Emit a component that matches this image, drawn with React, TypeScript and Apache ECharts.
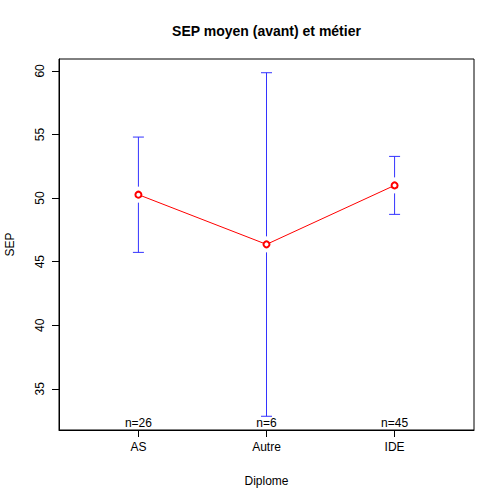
import React, { useEffect, useRef } from "react";
import * as echarts from "echarts";

const categories = ["AS", "Autre", "IDE"];
const means = [50.27, 46.36, 51.0];
const upper = [54.8, 59.86, 53.28];
const lower = [45.73, 32.84, 48.72];
const counts = [26, 6, 45];
const yTicks = [35, 40, 45, 50, 55, 60];

const Y_MIN = 31.76;
const Y_MAX = 60.94;
const X_MIN = 0.38;
const X_MAX = 3.62;
const FONT = "'Liberation Sans', Arial, Helvetica, sans-serif";

export default function App() {
  const ref = useRef<HTMLDivElement>(null);
  useEffect(() => {
    if (!ref.current) return;
    const chart = echarts.init(ref.current, null, { renderer: "svg" });
    const xs = categories.map((_, i) => i + 1);
    chart.setOption({
      animation: false,
      backgroundColor: "#ffffff",
      textStyle: { fontFamily: FONT },
      graphic: [
        {
          type: "text",
          x: 266.5,
          y: 31,
          style: {
            text: "SEP moyen (avant) et métier",
            fontSize: 14,
            fontWeight: "bold",
            fontFamily: FONT,
            fill: "#000",
            textAlign: "center",
            textVerticalAlign: "middle",
          },
        },
      ],
      grid: {
        left: 59,
        right: 30,
        top: 59,
        bottom: 74,
        show: true,
        borderColor: "#000",
        borderWidth: 1,
        backgroundColor: "transparent",
        containLabel: false,
        outerBoundsMode: "none",
      },
      xAxis: {
        type: "value",
        min: X_MIN,
        max: X_MAX,
        name: "Diplome",
        nameLocation: "middle",
        nameGap: 45,
        nameTextStyle: { fontSize: 12, color: "#000", fontFamily: FONT },
        splitLine: { show: false },
        axisLine: { show: true, onZero: false, lineStyle: { color: "#000", width: 1 } },
        axisTick: { show: true, length: 7, customValues: xs, lineStyle: { color: "#000" } },
        axisLabel: {
          show: true,
          customValues: xs,
          margin: 11,
          fontSize: 12,
          color: "#000",
          fontFamily: FONT,
          formatter: (v: number) => categories[Math.round(v) - 1] ?? "",
        },
      },
      yAxis: {
        type: "value",
        min: Y_MIN,
        max: Y_MAX,
        name: "SEP",
        nameLocation: "middle",
        nameGap: 43,
        nameRotate: 90,
        nameTextStyle: { fontSize: 12, color: "#000", fontFamily: FONT },
        splitLine: { show: false },
        axisLine: { show: true, onZero: false, lineStyle: { color: "#000", width: 1 } },
        axisTick: { show: true, length: 7, customValues: yTicks, lineStyle: { color: "#000" } },
        axisLabel: {
          show: true,
          customValues: yTicks,
          rotate: 90,
          margin: 13,
          fontSize: 12,
          color: "#000",
          fontFamily: FONT,
        },
      },
      series: [
        {
          type: "custom",
          z: 2,
          data: xs.map((x, i) => [x, lower[i], means[i], upper[i]]),
          renderItem: (params: any, api: any) => {
            const x = api.value(0);
            const lo = api.value(1);
            const mean = api.value(2);
            const hi = api.value(3);
            const pHi = api.coord([x, hi]);
            const pMean = api.coord([x, mean]);
            const pLo = api.coord([x, lo]);
            const gap = 8;
            const cap = 5.5;
            const style = { stroke: "#3333ff", lineWidth: 1 };
            return {
              type: "group",
              children: [
                { type: "line", shape: { x1: pHi[0], y1: pHi[1], x2: pHi[0], y2: pMean[1] - gap }, style },
                { type: "line", shape: { x1: pLo[0], y1: pMean[1] + gap, x2: pLo[0], y2: pLo[1] }, style },
                { type: "line", shape: { x1: pHi[0] - cap, y1: pHi[1], x2: pHi[0] + cap, y2: pHi[1] }, style },
                { type: "line", shape: { x1: pLo[0] - cap, y1: pLo[1], x2: pLo[0] + cap, y2: pLo[1] }, style },
              ],
            };
          },
        },
        {
          type: "line",
          z: 3,
          data: xs.map((x, i) => [x, means[i]]),
          symbol: "emptyCircle",
          symbolSize: 6,
          lineStyle: { color: "#ff0000", width: 1 },
          itemStyle: { color: "#ff0000", borderColor: "#ff0000", borderWidth: 1 },
        },
        {
          type: "custom",
          z: 4,
          data: xs.map((x, i) => [x, counts[i]]),
          renderItem: (params: any, api: any) => {
            const x = api.value(0);
            const n = api.value(1);
            const p = api.coord([x, Y_MIN]);
            return {
              type: "text",
              x: p[0],
              y: p[1] - 1,
              style: {
                text: "n=" + n,
                fontSize: 12,
                fontFamily: FONT,
                fill: "#000",
                textAlign: "center",
                textVerticalAlign: "bottom",
              },
            };
          },
        },
      ],
    });
    return () => chart.dispose();
  }, []);
  return (
    <div
      ref={ref}
      style={{ position: "fixed", left: 0, top: 0, width: 504, height: 504, background: "#fff" }}
    />
  );
}
